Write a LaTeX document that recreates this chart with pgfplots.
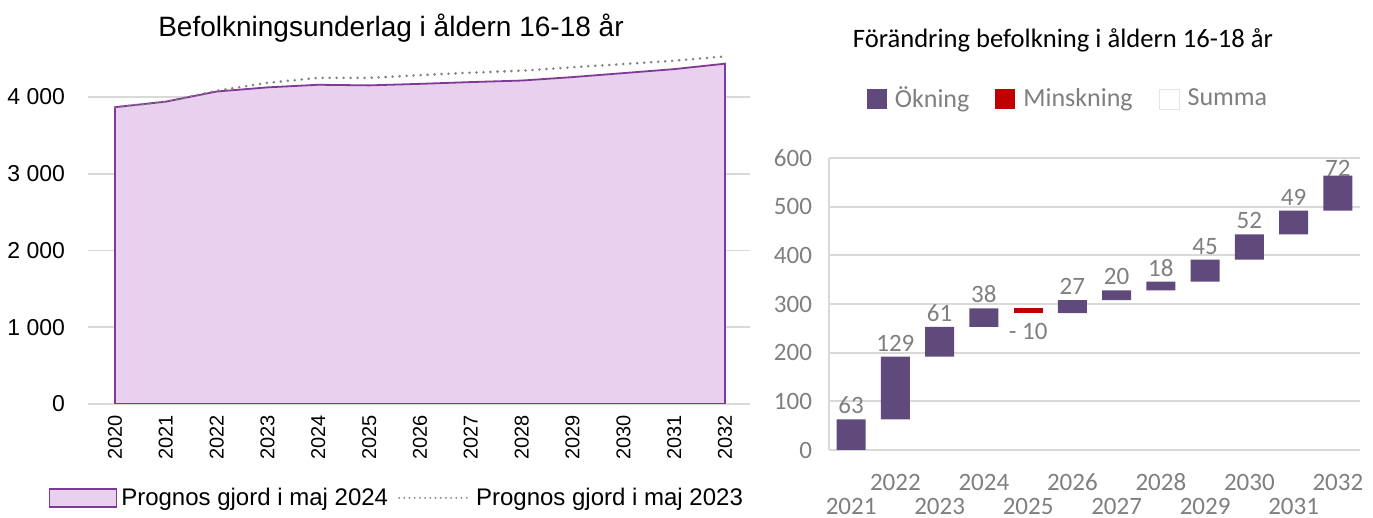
\documentclass[border=0pt]{standalone}
\usepackage{fontspec}
\setmainfont{Liberation Sans}
\newfontfamily\calibri{Carlito}
\usepackage{pgfplots}
\usepackage{pgfplotstable}
\pgfplotsset{compat=1.18}

\definecolor{lilacfill}{HTML}{E9D0EE}
\definecolor{lilacline}{HTML}{7E3A94}
\definecolor{dotgray}{HTML}{808080}
\definecolor{gridgray}{HTML}{D9D9D9}
\definecolor{barpurple}{HTML}{604A7B}
\definecolor{barred}{HTML}{C00000}
\definecolor{textgray}{HTML}{7F7F7F}

% prognos 2024 / 2023, x = 0 (2020) ... 12 (2032)
\pgfplotstableread{
x  p24   p23
0  3868  3868
1  3940  3940
2  4072  4082
3  4126  4185
4  4160  4250
5  4152  4250
6  4172  4285
7  4195  4318
8  4215  4343
9  4260  4388
10 4312  4430
11 4364  4474
12 4435  4530
}\befolk

% waterfall, x = 0 (2021) ... 11 (2032)
\pgfplotstableread{
x  base inc dec
0  0    63  0
1  63   129 0
2  192  61  0
3  253  38  0
4  281  0   10
5  281  27  0
6  308  20  0
7  328  18  0
8  346  45  0
9  391  52  0
10 443  49  0
11 492  72  0
}\wf

% data labels: y where the label sits
\pgfplotstableread{
x  ly   lab
0  63   63
1  192  129
2  253  61
3  291  38
5  308  27
6  328  20
7  346  18
8  391  45
9  443  52
10 492  49
11 551  72
}\wflab

\tikzset{wffont/.style={font=\calibri\fontsize{12.5}{14}\selectfont, text=textgray}}
\pgfplotsset{
  wfgeom/.style={
    at={(414.5pt,34pt)}, anchor=south west,
    scale only axis, width=265.5pt, height=146pt,
    xmin=-0.5, xmax=11.5, ymin=0, ymax=600,
  },
}

\begin{document}
\begin{tikzpicture}
\useasboundingbox (0,0) rectangle (686.5pt,259pt);

\node[font=\fontsize{14}{16}\selectfont] at (195.5pt,245pt) {Befolkningsunderlag i åldern 16-18 år};
\node[font=\calibri\fontsize{13.3}{15}\selectfont] at (531.5pt,239pt) {Förändring befolkning i åldern 16-18 år};

\begin{axis}[
  at={(44pt,57pt)}, anchor=south west,
  scale only axis, width=331pt, height=176.5pt,
  xmin=-0.53, xmax=12.49, ymin=0, ymax=4600,
  axis line style={draw=none},
  major tick length=0pt,
  ytick={0,1000,2000,3000,4000},
  ymajorgrids, grid style={gridgray, line width=0.9pt},
  /pgf/number format/assume math mode=true,
  /pgf/number format/1000 sep={\ },
  yticklabel style={font=\fontsize{11.5}{13}\selectfont, xshift=-8pt},
  xtick={0,...,12},
  xticklabels={2020,2021,2022,2023,2024,2025,2026,2027,2028,2029,2030,2031,2032},
  xticklabel style={font=\fontsize{10}{12}\selectfont, rotate=90, anchor=east, xshift=-2pt},
  legend columns=2,
  legend style={draw=none, at={(axis description cs:0.468,-0.266)}, anchor=center,
    font=\fontsize{12}{13}\selectfont, inner sep=0pt,
    /tikz/every even column/.append style={column sep=3pt}},
]
\addplot[fill=lilacfill, draw=lilacline, line width=0.9pt,
  legend image code/.code={\draw[fill=lilacfill, draw=lilacline, line width=0.8pt] (0pt,-4.5pt) rectangle (33.5pt,4.5pt);}]
  table[x=x, y=p24] {\befolk} \closedcycle;
\addlegendentry{Prognos gjord i maj 2024}
\addplot[dotgray, line width=1.4pt, line cap=round, dash pattern=on 0pt off 3.5pt,
  legend image code/.code={\draw[dotgray, line width=1pt, line cap=round, dash pattern=on 0pt off 2.6pt] (1pt,0pt) -- (37pt,0pt);}]
  table[x=x, y=p23] {\befolk};
\addlegendentry{Prognos gjord i maj 2023}
\end{axis}

\begin{axis}[
  wfgeom,
  ybar stacked, bar width=14.5pt,
  axis lines*=left,
  axis line style={gridgray, line width=0.9pt},
  major tick length=0pt,
  ytick={0,100,...,600},
  ymajorgrids, grid style={gridgray, line width=0.9pt},
  /pgf/number format/assume math mode=true,
  yticklabel style={wffont, xshift=-5pt},
  xtick={0,2,4,6,8,10},
  xticklabels={2021,2023,2025,2027,2029,2031},
  xticklabel style={wffont, anchor=center, inner sep=0pt, yshift=-28pt},
  extra x ticks={1,3,5,7,9,11},
  extra x tick labels={2022,2024,2026,2028,2030,2032},
  extra x tick style={grid=none, xticklabel style={yshift=12pt}},
  clip=false,
  legend columns=3,
  legend style={draw=none, at={(axis description cs:0.452,1.202)}, anchor=center,
    font=\calibri\fontsize{13}{15}\selectfont, text=textgray,
    /tikz/every even column/.append style={column sep=11pt}},
]
\addplot[draw=none, fill=none, forget plot] table[x=x, y=base] {\wf};
\addplot[fill=barpurple, draw=none,
  legend image code/.code={\fill[barpurple] (0pt,-5pt) rectangle (10pt,5pt);\path (12pt,0pt);}]
  table[x=x, y=inc] {\wf};
\addlegendentry{Ökning}
\addplot[fill=barred, draw=none,
  legend image code/.code={\fill[barred] (0pt,-5pt) rectangle (10pt,5pt);\path (12pt,0pt);}]
  table[x=x, y=dec] {\wf};
\addlegendentry{Minskning}
\addlegendimage{legend image code/.code={\draw[gray!20, fill=white] (0pt,-5pt) rectangle (10pt,5pt);\path (12pt,0pt);}}
\addlegendentry{Summa}
\end{axis}

% data labels of the waterfall
\begin{axis}[wfgeom, hide axis, clip=false]
\addplot[draw=none, mark=none, nodes near coords, point meta=explicit symbolic,
  nodes near coords style={wffont, anchor=south, inner sep=2.5pt}]
  table[x=x, y=ly, meta=lab] {\wflab};
\addplot[draw=none, mark=none, nodes near coords, point meta=explicit symbolic,
  nodes near coords style={wffont, anchor=north, inner sep=1pt, yshift=-4pt}]
  coordinates {(4,281) [{- 10}]};
\end{axis}
\end{tikzpicture}
\end{document}
